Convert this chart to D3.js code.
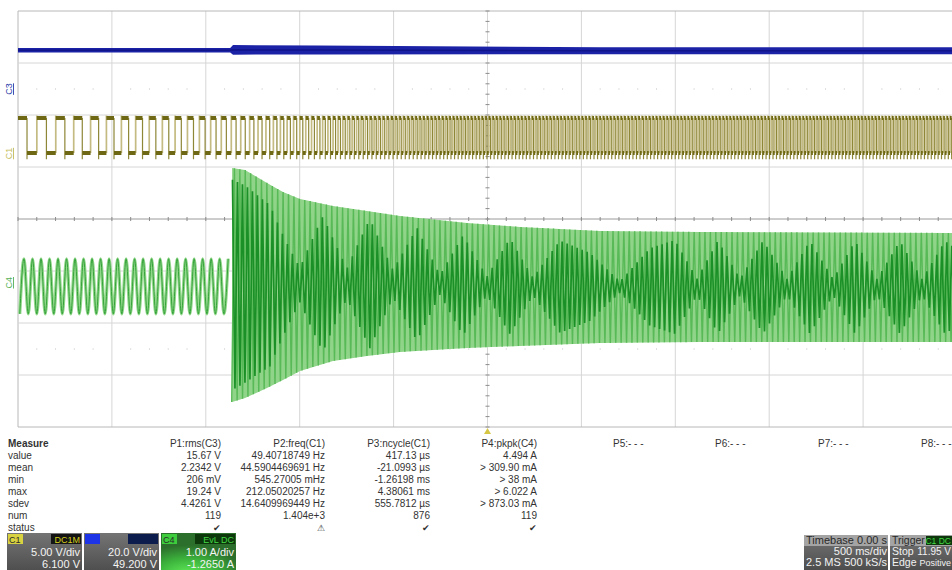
<!DOCTYPE html>
<html>
<head>
<meta charset="utf-8">
<script src="https://cdn.jsdelivr.net/npm/d3@7"></script>
<style>
  body { margin: 0; background: #fff; }
  svg { display: block; font-family: "Liberation Sans", Arial, sans-serif; }
</style>
</head>
<body>
<div id="scope"></div>
<script>
// graticule: 500 ms/div, 10 div, trigger at centre; 8 vertical divisions
const timeGrid = [-2.5, -2, -1.5, -1, -0.5, 0, 0.5, 1, 1.5, 2, 2.5];
const divGrid = [-4, -3, -2, -1, 0, 1, 2, 3, 4];

// C3 (blue) trace band, volts
const c3T = [-2.5, -1.37, -1.355, -0.9, 0.6, 2.5];
const c3Hi = [16.6, 16.6, 17.7, 17.5, 16.9, 16.9];
const c3Lo = [14.8, 14.8, 14.0, 14.1, 14.2, 14.2];

// C1 (yellow) square wave, levels in volts, period
const c1Levels = [0.25, 3.6];
const c1FirstFall = -2.452;
const c1PeriodT = [-2.489, -2.276, -2.063, -1.85, -1.584, -1.403, -1.265, -1.131, -0.998, -0.732, -0.2, 2.473];
const c1PeriodS = [0.1065, 0.0958, 0.0825, 0.0719, 0.0639, 0.0532, 0.0453, 0.0373, 0.032, 0.024, 0.0192, 0.0181];

// C4 (green) current, amps
const c4Event = -1.362;
const c4Pre = [0.5, -0.56];          // peak / trough before the event
const c4PrePeriod = 0.0453;          // apparent period on screen
const c4PreFirstPeak = -2.468;
const c4EnvT = [-1.36, -1.291, -1.174, -1.089, -0.998, -0.823, -0.642, -0.466, -0.109, 0.173, 0.599, 1.132, 2.5];
const c4EnvHi = [2.246, 2.208, 1.958, 1.785, 1.65, 1.515, 1.419, 1.323, 1.188, 1.112, 1.035, 1.015, 0.996];
const c4EnvLo = [-2.254, -2.177, -1.985, -1.831, -1.658, -1.465, -1.369, -1.292, -1.215, -1.177, -1.119, -1.1, -1.1];
const c4BeatT = [-1.36, -1.158, -0.998, -0.876, -0.748, -0.626, -0.503, -0.375, -0.253, -0.13, -0.003, 0.12, 0.242, 0.386, 0.546, 0.706, 0.865, 0.998, 1.116, 1.227, 1.345, 1.467, 1.595, 1.717, 1.84, 1.957, 2.074, 2.196, 2.314, 2.436, 2.5];
const c4BeatF = [0.9, 0.8, 0.2, 0.85, 0.2, 0.9, 0.2, 0.85, 0.15, 0.8, 0.15, 0.8, 0.15, 0.8, 0.6, 0.1, 0.7, 0.85, 0.15, 0.85, 0.15, 0.85, 0.15, 0.85, 0.15, 0.85, 0.15, 0.85, 0.15, 0.85, 0.7];
const c4LightStep = 0.0144;
const c4DarkStep = 0.0133;

// measurement table
const rowLabels = ["value", "mean", "min", "max", "sdev", "num", "status"];
const paramHeads = ["P1:rms(C3)", "P2:freq(C1)", "P3:ncycle(C1)", "P4:pkpk(C4)", "P5:- - -", "P6:- - -", "P7:- - -", "P8:- - -"];
const p1Vals = ["15.67 V", "2.2342 V", "206 mV", "19.24 V", "4.4261 V", "119", "✔"];
const p2Vals = ["49.40718749 Hz", "44.5904469691 Hz", "545.27005 mHz", "212.05020257 Hz", "14.6409969449 Hz", "1.404e+3", "⚠"];
const p3Vals = ["417.13 µs", "-21.0993 µs", "-1.26198 ms", "4.38061 ms", "555.7812 µs", "876", "✔"];
const p4Vals = ["4.494 A", "> 309.90 mA", "> 38 mA", "> 6.022 A", "> 873.03 mA", "119", "✔"];

// channel descriptor boxes
const chTags = ["C1", "", "C4"];
const chCoupling = ["DC1M", "", "EvL DC"];
const chScales = ["5.00 V/div", "20.0 V/div", "1.00 A/div"];
const chOffsets = ["6.100 V", "49.200 V", "-1.2650 A"];
const tbRows = [["Timebase", "0.00 s"], ["", "500 ms/div"], ["2.5 MS", "500 kS/s"]];
const trigRows = [["Trigger", "C1 DC"], ["Stop", "11.95 V"], ["Edge", "Positive"]];

const W = 952, H = 570;
const plot = { left: 18, right: 957, top: 11, bottom: 427 };

const x = d3.scaleLinear().domain([-2.5, 2.5]).range([plot.left, plot.right]);
const yDiv = d3.scaleLinear().domain([-4, 4]).range([plot.bottom, plot.top]);
const chY = (perDiv, offset) =>
  d3.scaleLinear().domain([-4 * perDiv - offset, 4 * perDiv - offset]).range([plot.bottom, plot.top]);
const yC1 = chY(5, 6.1);
const yC3 = chY(20, 49.2);
const yC4 = chY(1, -1.265);

const svg = d3.select("#scope").append("svg").attr("width", W).attr("height", H);
const defs = svg.append("defs");
defs.append("clipPath").attr("id", "clip")
  .append("rect").attr("x", plot.left).attr("y", plot.top)
  .attr("width", plot.right - plot.left).attr("height", plot.bottom - plot.top);

// ---- graticule ----
const grid = svg.append("g");
grid.selectAll("line.v").data(timeGrid).join("line")
  .attr("x1", d => x(d)).attr("x2", d => x(d))
  .attr("y1", plot.top).attr("y2", plot.bottom)
  .attr("stroke", (d, i) => i === 0 ? "#b8b8b8" : "#d6d6d6").attr("stroke-width", 1);
grid.selectAll("line.h").data(divGrid).join("line")
  .attr("x1", plot.left).attr("x2", plot.right)
  .attr("y1", d => yDiv(d)).attr("y2", d => yDiv(d))
  .attr("stroke", (d, i) => (i === 0 || i === divGrid.length - 1) ? "#b8b8b8" : (d === 0 ? "#9a9a9a" : "#d6d6d6"))
  .attr("stroke-width", 1);
// centre line ticks
const tTicks = d3.range(-2.5, 2.5001, 0.1);
const dTicks = d3.range(-4, 4.001, 0.2);
grid.selectAll("line.tt").data(tTicks).join("line")
  .attr("x1", d => x(d)).attr("x2", d => x(d))
  .attr("y1", yDiv(0) - 2).attr("y2", yDiv(0) + 2)
  .attr("stroke", "#8c8c8c");
grid.selectAll("line.dt").data(dTicks).join("line")
  .attr("x1", x(0) - 2).attr("x2", x(0) + 2)
  .attr("y1", d => yDiv(d)).attr("y2", d => yDiv(d))
  .attr("stroke", "#8c8c8c");
// faint quarter marks
[-2.5, 2.5].forEach(dv => {
  grid.selectAll(null).data(tTicks.filter((d, i) => i % 5 !== 0)).join("line")
    .attr("x1", d => x(d)).attr("x2", d => x(d))
    .attr("y1", yDiv(dv) - 1).attr("y2", yDiv(dv) + 1)
    .attr("stroke", "#e0e0e0");
});

const traces = svg.append("g").attr("clip-path", "url(#clip)");

// ---- C3 blue band ----
const c3Data = c3T.map((t, i) => ({ t, hi: c3Hi[i], lo: c3Lo[i] }));
traces.append("path").datum(c3Data)
  .attr("d", d3.area().x(d => x(d.t)).y0(d => yC3(d.lo)).y1(d => yC3(d.hi)))
  .attr("fill", "#1b22a6");
traces.append("path").datum(c3Data)
  .attr("d", d3.line().x(d => x(d.t)).y(d => yC3((d.lo + d.hi) / 2)))
  .attr("fill", "none").attr("stroke", "#10158a").attr("stroke-width", 1.5);

// ---- C1 square wave ----
const c1Period = d3.scaleLinear().domain(c1PeriodT).range(c1PeriodS).clamp(true);
const edges = [];
{
  let t = c1FirstFall, high = true;
  while (t < 2.6) {
    edges.push({ t, rising: !high });
    high = !high;
    t += c1Period(t) / 2;
  }
}
const [lowV, highV] = c1Levels;
const plat = d3.path(), riseP = d3.path(), fallP = d3.path();
{
  let prev = -2.5, level = highV;
  edges.forEach(e => {
    plat.moveTo(x(prev), yC1(level));
    plat.lineTo(x(e.t), yC1(level));
    if (e.rising) {
      riseP.moveTo(x(e.t), yC1(lowV));
      riseP.lineTo(x(e.t), yC1(highV + 0.25));
    } else {
      fallP.moveTo(x(e.t), yC1(highV));
      fallP.lineTo(x(e.t), yC1(lowV - 0.6));
    }
    prev = e.t;
    level = e.rising ? highV : lowV;
  });
}
traces.append("path").attr("d", riseP.toString())
  .attr("fill", "none").attr("stroke", "#c4bb82").attr("stroke-width", 1.7);
traces.append("path").attr("d", fallP.toString())
  .attr("fill", "none").attr("stroke", "#8f8738").attr("stroke-width", 1.2);
traces.append("path").attr("d", plat.toString())
  .attr("fill", "none").attr("stroke", "#6e6814").attr("stroke-width", 4);

// ---- C4 green current ----
const prePts = [];
{
  let t = c4PreFirstPeak - c4PrePeriod / 2, up = false;
  while (t < c4Event) {
    prePts.push([t, up ? c4Pre[0] : c4Pre[1]]);
    up = !up;
    t += c4PrePeriod / 2;
  }
}
const preLine = d3.line().x(d => x(d[0])).y(d => yC4(d[1])).curve(d3.curveMonotoneX);
traces.append("path").datum(prePts).attr("d", preLine)
  .attr("fill", "none").attr("stroke", "#92d88b").attr("stroke-width", 3.2);
traces.append("path").datum(prePts).attr("d", preLine)
  .attr("fill", "none").attr("stroke", "#35a23a").attr("stroke-width", 1);

const envHi = d3.scaleLinear().domain(c4EnvT).range(c4EnvHi).clamp(true);
const envLo = d3.scaleLinear().domain(c4EnvT).range(c4EnvLo).clamp(true);
const beat = d3.scaleLinear().domain(c4BeatT).range(c4BeatF).clamp(true);

// persistence fill between the envelope edges
const envData = c4EnvT.map((t, i) => ({ t, hi: c4EnvHi[i], lo: c4EnvLo[i] }));
traces.append("path").datum(envData)
  .attr("d", d3.area().x(d => x(d.t)).y0(d => yC4(d.lo)).y1(d => yC4(d.hi)))
  .attr("fill", "#8fd488");

const lightPts = [];
{
  let t = c4Event, up = false;
  while (t < 2.6) {
    lightPts.push([t, up ? envHi(t) : envLo(t)]);
    up = !up;
    t += c4LightStep;
  }
}
const darkPts = [];
{
  let t = c4Event + 0.004, up = true;
  while (t < 2.6) {
    const c = (envHi(t) + envLo(t)) / 2, half = (envHi(t) - envLo(t)) / 2 * beat(t);
    darkPts.push([t, up ? c + half : c - half]);
    up = !up;
    t += c4DarkStep;
  }
}
const zig = d3.line().x(d => x(d[0])).y(d => yC4(d[1]));
traces.append("path").datum(lightPts).attr("d", zig)
  .attr("fill", "none").attr("stroke", "#58b957").attr("stroke-width", 1.4);
traces.append("path").datum(darkPts).attr("d", zig)
  .attr("fill", "none").attr("stroke", "#1b9027").attr("stroke-width", 1.7);

// channel zero markers
const markers = [
  { name: "C3", y: yC3(0), color: "#2a3aa8" },
  { name: "C1", y: yC1(0), color: "#c4bc5a" },
  { name: "C4", y: yC4(0), color: "#55b055" }
];
svg.selectAll("text.mk").data(markers).join("text")
  .attr("transform", d => `translate(12, ${d.y - 2}) rotate(-90)`)
  .attr("text-anchor", "middle")
  .attr("fill", d => d.color)
  .style("font-size", "9px")
  .style("text-decoration", "underline")
  .text(d => d.name);

// trigger position marker
svg.append("path")
  .attr("d", `M${x(0)},${plot.bottom + 1} l-3.5,6 l7,0 z`)
  .attr("fill", "#d6c646");

// ---- measurement table ----
const tbl = svg.append("g").style("font-size", "10px").attr("fill", "#333");
const rowY = i => 447 + i * 12;
tbl.append("text").attr("x", 8).attr("y", rowY(0)).attr("font-weight", "bold").text("Measure");
tbl.selectAll("text.lbl").data(rowLabels).join("text")
  .attr("x", 8).attr("y", (d, i) => rowY(i + 1)).text(d => d);
const rightCols = [221, 325, 430, 537];
const leftCols = [613, 715, 818, 921];
[p1Vals, p2Vals, p3Vals, p4Vals].forEach((vals, c) => {
  tbl.append("text").attr("x", rightCols[c]).attr("y", rowY(0))
    .attr("text-anchor", "end").text(paramHeads[c]);
  tbl.selectAll(null).data(vals).join("text")
    .attr("x", rightCols[c]).attr("y", (d, i) => rowY(i + 1))
    .attr("text-anchor", "end")
    .style("font-size", (d, i) => i === 6 ? "9px" : null)
    .text(d => d);
});
leftCols.forEach((lx, c) => {
  tbl.append("text").attr("x", lx).attr("y", rowY(0)).text(paramHeads[c + 4]);
});

// ---- channel boxes ----
const boxGrad = defs.append("linearGradient").attr("id", "boxg").attr("x1", 0).attr("y1", 0).attr("x2", 0).attr("y2", 1);
boxGrad.append("stop").attr("offset", 0).attr("stop-color", "#747474");
boxGrad.append("stop").attr("offset", 1).attr("stop-color", "#4c4c4c");
const greenGrad = defs.append("radialGradient").attr("id", "greeng")
  .attr("cx", 0.35).attr("cy", 1.05).attr("r", 0.75);
greenGrad.append("stop").attr("offset", 0).attr("stop-color", "#62ee5a");
greenGrad.append("stop").attr("offset", 0.55).attr("stop-color", "#3cb23c");
greenGrad.append("stop").attr("offset", 1).attr("stop-color", "#2c6e2c");

const boxX = [7, 84, 161];
const boxW = 75;
const tagFill = ["#d8d140", "#1d33e6", "#3ccc3c"];
const cplFill = ["#141414", "#0c1c4c", "#0c380c"];
const cplText = ["#d6cf1c", "#3050c0", "#44d844"];
const boxes = svg.selectAll("g.box").data(chScales).join("g")
  .attr("transform", (d, i) => `translate(${boxX[i]}, 533)`);
boxes.append("rect").attr("width", boxW).attr("height", 40)
  .attr("fill", (d, i) => i === 2 ? "url(#greeng)" : "url(#boxg)");
boxes.append("rect").attr("x", 1).attr("y", 1).attr("width", 15).attr("height", 10)
  .attr("fill", (d, i) => tagFill[i]);
boxes.append("text").attr("x", 2).attr("y", 9.5).style("font-size", "9px")
  .attr("fill", "#2a2a2a").text((d, i) => chTags[i]);
boxes.append("rect").attr("x", (d, i) => i === 2 ? 34 : 44).attr("y", 1)
  .attr("width", (d, i) => i === 2 ? 40 : 30).attr("height", 10)
  .attr("fill", (d, i) => cplFill[i]);
boxes.append("text").attr("x", boxW - 2).attr("y", 9.5).attr("text-anchor", "end")
  .style("font-size", "9px").attr("fill", (d, i) => cplText[i]).text((d, i) => chCoupling[i]);
boxes.append("text").attr("x", boxW - 2).attr("y", 23).attr("text-anchor", "end")
  .style("font-size", "11px").attr("fill", "#f4f4f4").text(d => d);
boxes.append("text").attr("x", boxW - 2).attr("y", 35).attr("text-anchor", "end")
  .style("font-size", "11px").attr("fill", "#f4f4f4").text((d, i) => chOffsets[i]);

// timebase / trigger boxes
const tb = svg.append("g").attr("transform", "translate(804, 535)");
tb.append("rect").attr("width", 84).attr("height", 36).attr("fill", "url(#boxg)");
tb.append("rect").attr("width", 84).attr("height", 11).attr("fill", "#a4a4a4");
tbRows.forEach((r, i) => {
  tb.append("text").attr("x", 2).attr("y", 9 + i * 11).style("font-size", "11px")
    .attr("fill", i === 0 ? "#2a2a2a" : "#f2f2f2").text(r[0]);
  tb.append("text").attr("x", 83).attr("y", 9 + i * 11).attr("text-anchor", "end").style("font-size", "11px")
    .attr("fill", i === 0 ? "#2a2a2a" : "#f2f2f2").text(r[1]);
});
const tr = svg.append("g").attr("transform", "translate(890, 535)");
tr.append("rect").attr("width", 62).attr("height", 36).attr("fill", "url(#boxg)");
tr.append("rect").attr("width", 62).attr("height", 11).attr("fill", "#a4a4a4");
tr.append("rect").attr("x", 36).attr("y", 1).attr("width", 26).attr("height", 9).attr("fill", "#0c380c");
tr.append("text").attr("x", 61).attr("y", 9).attr("text-anchor", "end")
  .style("font-size", "8.5px").attr("fill", "#44d844").text(trigRows[0][1]);
trigRows.forEach((r, i) => {
  tr.append("text").attr("x", 2).attr("y", 9 + i * 11).style("font-size", "10.5px")
    .attr("fill", i === 0 ? "#2a2a2a" : "#f2f2f2").text(r[0]);
  if (i > 0) tr.append("text").attr("x", 61).attr("y", 9 + i * 11).attr("text-anchor", "end")
    .style("font-size", (i === 2 ? "9px" : "10px"))
    .attr("fill", "#f2f2f2").text(r[1]);
});
</script>
</body>
</html>
